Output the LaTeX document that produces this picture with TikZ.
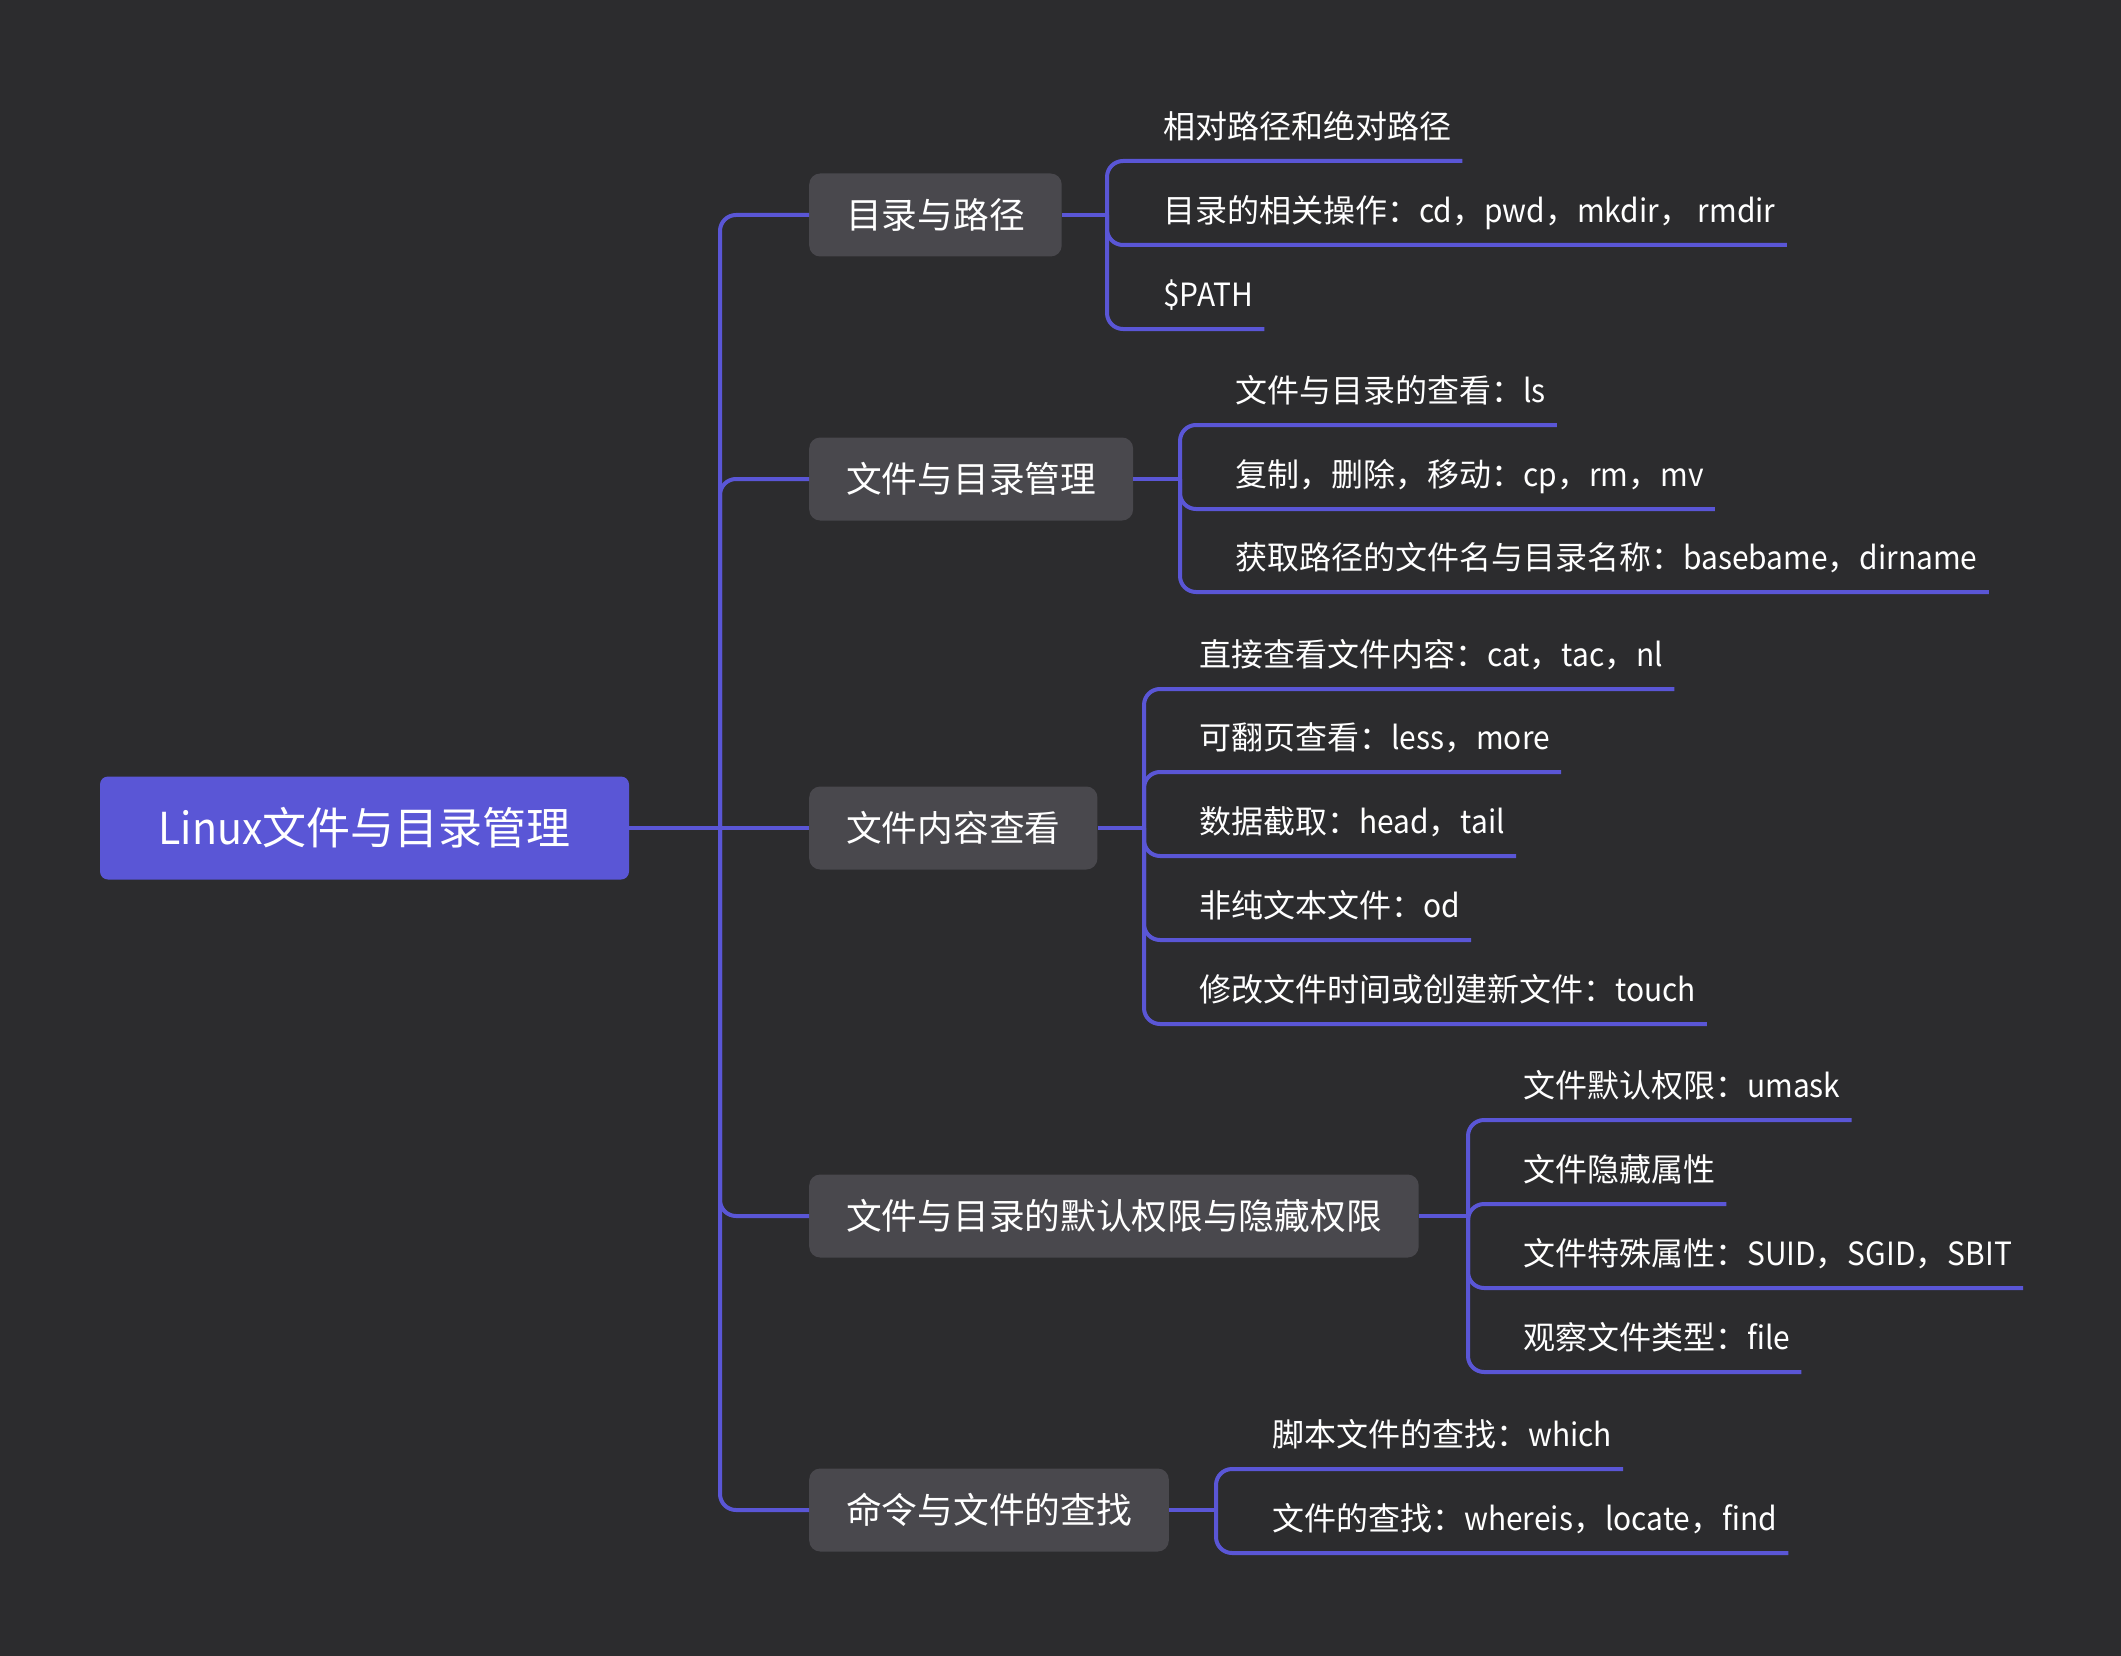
\documentclass[tikz,border=0pt]{standalone}
\usepackage{fontspec}
\setmainfont{Noto Sans CJK SC}
% slightly narrower face for the Latin words
\newfontfamily\latnarrow[FakeStretch=0.935]{Noto Sans CJK SC}
\newcommand{\en}[1]{{\latnarrow #1}}
\definecolor{bgc}{RGB}{44,44,46}
\definecolor{boxc}{RGB}{73,72,77}
\definecolor{accent}{RGB}{90,86,214}
\begin{document}
\begin{tikzpicture}[x=1pt,y=-1pt,
  rootbox/.style={fill=accent, rounded corners=8pt, text=white,
    minimum width=529pt, minimum height=103pt, inner sep=0pt,
    font=\fontsize{44pt}{50pt}\selectfont},
  topic/.style={fill=boxc, rounded corners=11pt, text=white, anchor=west,
    minimum height=83pt, inner xsep=37pt, inner ysep=0pt,
    font=\fontsize{35.7pt}{40pt}\selectfont},
  leaf/.style={anchor=south west, text=white, inner xsep=11pt, inner ysep=22pt,
    text depth=0pt, font=\fontsize{32pt}{36pt}\selectfont},
  link/.style={draw=accent, line width=4pt},
  spine/.style={link, rounded corners=16pt},
  fork/.style={link, rounded corners=16pt}]

% canvas
\fill[bgc] (0,0) rectangle (2121,1656);
\useasboundingbox (0,0) rectangle (2121,1656);

% root and main topics
\node[rootbox] (root) at (364.5,828) {\en{Linux}文件与目录管理};
\node[topic] (b1) at (809,215) {目录与路径};
\node[topic] (b2) at (809,479) {文件与目录管理};
\node[topic] (b3) at (809,828) {文件内容查看};
\node[topic] (b4) at (809,1216) {文件与目录的默认权限与隐藏权限};
\node[topic] (b5) at (809,1510) {命令与文件的查找};

% spine from the root to every topic
\coordinate (j0) at (720,828);
\draw[link] (root.east) -- (b3.west);
\draw[spine] (j0) |- (b1.west);
\draw[spine] (j0) |- (b2.west);
\draw[spine] (j0) |- (b4.west);
\draw[spine] (j0) |- (b5.west);

% topic 1
\node[leaf] (l11) at (1152,161) {相对路径和绝对路径};
\node[leaf] (l12) at (1152,245) {目录的相关操作：\en{cd}，\en{pwd}，\en{mkdir}，\en{ rmdir}};
\node[leaf] (l13) at (1152,329) {\en{\$PATH}};
\coordinate (j1) at (1107,215);
\draw[link] (b1.east) -- (j1);
\foreach \n in {l11,l12,l13} \draw[fork] (j1) |- (\n.south east);

% topic 2
\node[leaf] (l21) at (1224,425) {文件与目录的查看：\en{ls}};
\node[leaf] (l22) at (1224,509) {复制，删除，移动：\en{cp}，\en{rm}，\en{mv}};
\node[leaf] (l23) at (1224,592) {获取路径的文件名与目录名称：\en{basebame}，\en{dirname}};
\coordinate (j2) at (1180,479);
\draw[link] (b2.east) -- (j2);
\foreach \n in {l21,l22,l23} \draw[fork] (j2) |- (\n.south east);

% topic 3
\node[leaf] (l31) at (1188,689) {直接查看文件内容：\en{cat}，\en{tac}，\en{nl}};
\node[leaf] (l32) at (1188,772) {可翻页查看：\en{less}，\en{more}};
\node[leaf] (l33) at (1188,856) {数据截取：\en{head}，\en{tail}};
\node[leaf] (l34) at (1188,940) {非纯文本文件：\en{od}};
\node[leaf] (l35) at (1188,1024) {修改文件时间或创建新文件：\en{touch}};
\coordinate (j3) at (1144,828);
\draw[link] (b3.east) -- (j3);
\foreach \n in {l31,l32,l33,l34,l35} \draw[fork] (j3) |- (\n.south east);

% topic 4
\node[leaf] (l41) at (1512,1120) {文件默认权限：\en{umask}};
\node[leaf] (l42) at (1512,1204) {文件隐藏属性};
\node[leaf] (l43) at (1512,1288) {文件特殊属性：\en{SUID}，\en{SGID}，\en{SBIT}};
\node[leaf] (l44) at (1512,1372) {观察文件类型：\en{file}};
\coordinate (j4) at (1468,1216);
\draw[link] (b4.east) -- (j4);
\foreach \n in {l41,l42,l43,l44} \draw[fork] (j4) |- (\n.south east);

% topic 5
\node[leaf] (l51) at (1261,1469) {脚本文件的查找：\en{which}};
\node[leaf] (l52) at (1261,1553) {文件的查找：\en{whereis}，\en{locate}，\en{find}};
\coordinate (j5) at (1216,1510);
\draw[link] (b5.east) -- (j5);
\foreach \n in {l51,l52} \draw[fork] (j5) |- (\n.south east);
\end{tikzpicture}
\end{document}
